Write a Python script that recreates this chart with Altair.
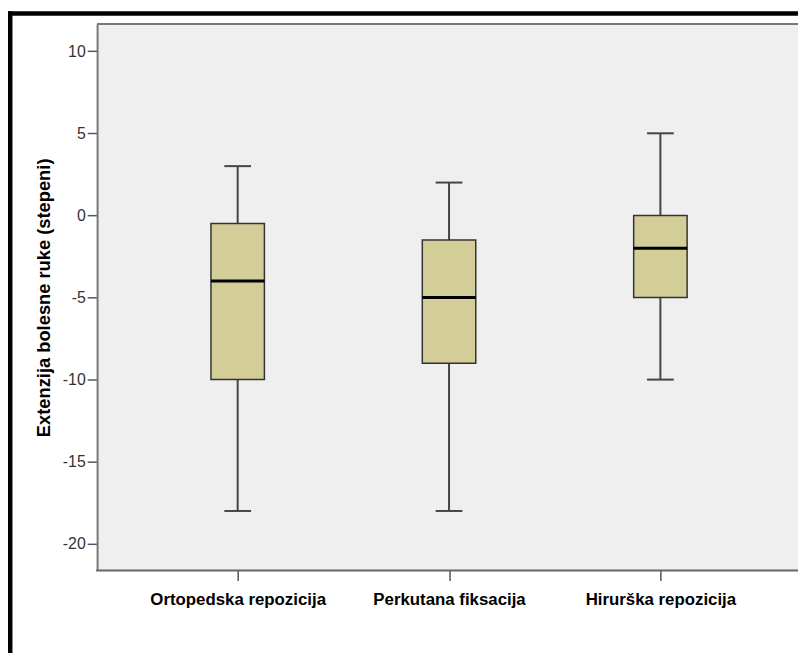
import altair as alt
import pandas as pd

categories = ["Ortopedska repozicija", "Perkutana fiksacija", "Hirurška repozicija"]
whisker_low = [-18, -18, -10]
q1 = [-10, -9, -5]
median = [-4, -5, -2]
q3 = [-0.5, -1.5, 0]
whisker_high = [3, 2, 5]
y_ticks = [-20, -15, -10, -5, 0, 5, 10]

df = pd.DataFrame({
    "cat": categories,
    "lo": whisker_low,
    "q1": q1,
    "med": median,
    "q3": q3,
    "hi": whisker_high,
})

W = 708
H = 552
FONT = "Liberation Sans, Arial, sans-serif"

xscale = alt.Scale(type="point", domain=categories, range=[142, 569], padding=0)
yscale = alt.Scale(domain=[-21.63, 11.65], nice=False, zero=False)

x_enc = alt.X("cat:N", scale=xscale, sort=categories,
              axis=alt.Axis(title=None, labelAngle=0, labelFont=FONT, labelLimit=400,
                            labelFontSize=17, labelFontWeight="bold", labelColor="#000000",
                            tickSize=10, tickColor="#555555", tickWidth=1.5,
                            domain=False, labelPadding=11))
y_axis = alt.Axis(title="Extenzija bolesne ruke (stepeni)", values=y_ticks, grid=False,
                  labelExpr="datum.value + ''",
                  titleFont=FONT, titleFontSize=18.5, titleFontWeight="bold",
                  titleColor="#000000", titleX=-54, titleY=H / 2, titleAngle=-90,
                  titleAlign="center", titleBaseline="middle",
                  labelFont=FONT, labelFontSize=16, labelColor="#333333",
                  tickSize=10, tickColor="#555555", tickWidth=1.5, labelPadding=2,
                  domainColor="#777777", domainWidth=2)

base = alt.Chart(df)

whisk = base.mark_rule(color="#444444", strokeWidth=2, opacity=1).encode(
    x=x_enc,
    y=alt.Y("lo:Q", scale=yscale, axis=y_axis),
    y2="hi:Q",
)
box = base.mark_bar(size=54, color="#D3CE97", stroke="#333333", strokeWidth=1.5, opacity=1).encode(
    x=alt.X("cat:N", scale=xscale, sort=categories),
    y=alt.Y("q1:Q", scale=yscale),
    y2="q3:Q",
)
med = base.mark_tick(size=54, thickness=3, color="#000000", opacity=1).encode(
    x=alt.X("cat:N", scale=xscale, sort=categories),
    y=alt.Y("med:Q", scale=yscale),
)
cap_lo = base.mark_tick(size=27, thickness=2, color="#444444", opacity=1).encode(
    x=alt.X("cat:N", scale=xscale, sort=categories),
    y=alt.Y("lo:Q", scale=yscale),
)
cap_hi = base.mark_tick(size=27, thickness=2, color="#444444", opacity=1).encode(
    x=alt.X("cat:N", scale=xscale, sort=categories),
    y=alt.Y("hi:Q", scale=yscale),
)

one = pd.DataFrame({"a": [0]})
top_line = alt.Chart(one).mark_rule(color="#777777", strokeWidth=2, clip=False).encode(
    x=alt.value(0), x2=alt.value(W), y=alt.value(0)
)
bottom_line = alt.Chart(one).mark_rule(color="#666666", strokeWidth=2, clip=False).encode(
    x=alt.value(-1), x2=alt.value(W), y=alt.value(H)
)
frame_left = alt.Chart(one).mark_rule(color="#000000", strokeWidth=4.5, clip=False).encode(
    x=alt.value(-87.75), y=alt.value(-13), y2=alt.value(H + 90)
)
frame_top = alt.Chart(one).mark_rule(color="#000000", strokeWidth=4.5, clip=False).encode(
    x=alt.value(-90), x2=alt.value(W), y=alt.value(-10.75)
)

chart = alt.layer(whisk, box, med, cap_lo, cap_hi, top_line, bottom_line, frame_left, frame_top).properties(
    width=W, height=H,
    autosize=alt.AutoSizeParams(type="none"),
    padding={"left": 90, "top": 13, "right": 0, "bottom": 80},
    background="#ffffff",
).configure_view(fill="#EFEFEF", stroke=None)

chart.save("out.html", embed_options={"renderer": "svg", "actions": False})
